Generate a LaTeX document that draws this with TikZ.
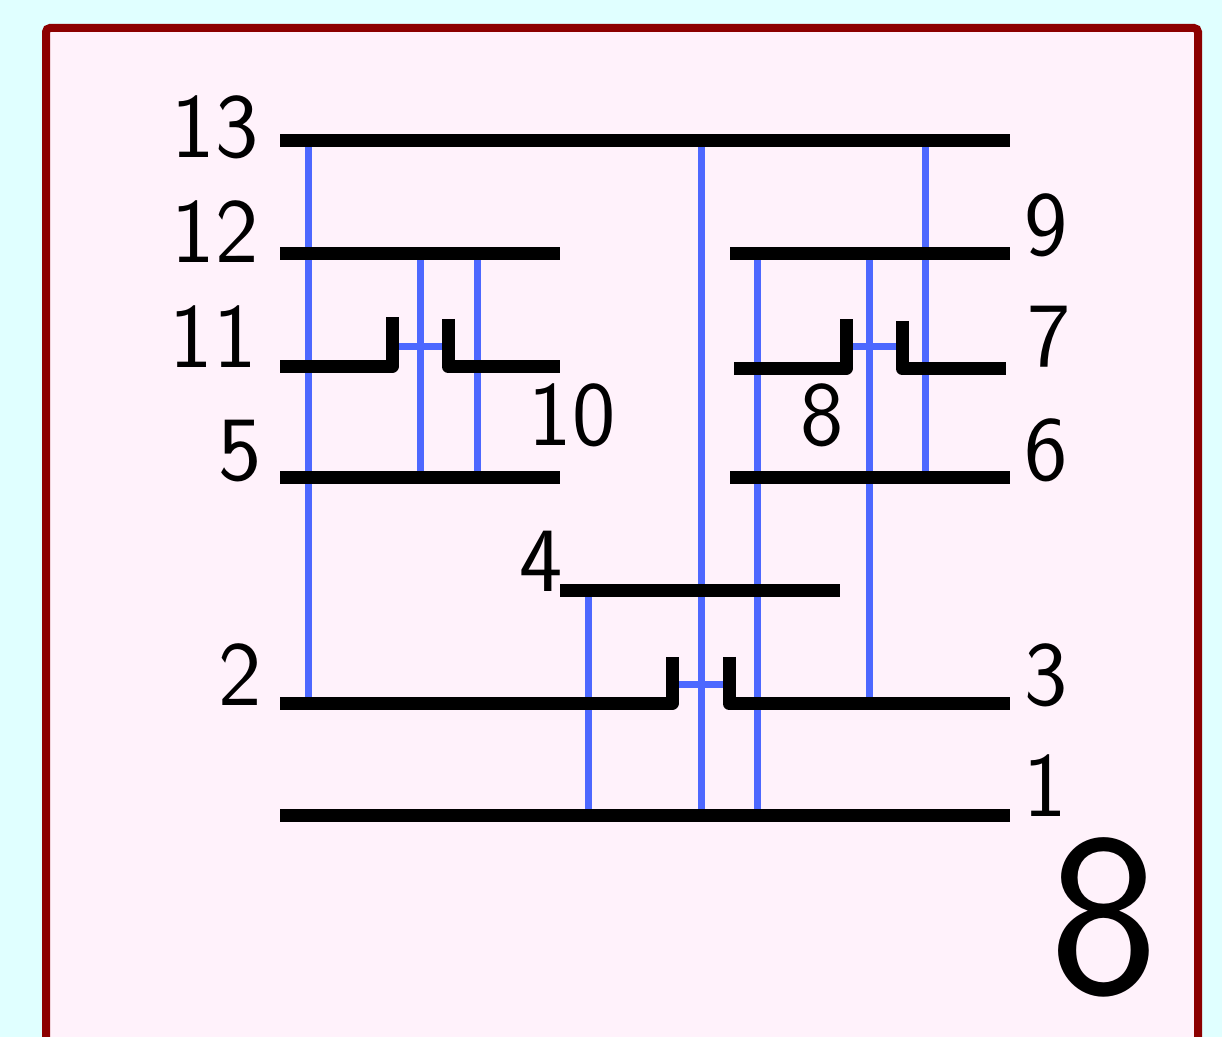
\documentclass[tikz,border=0pt]{standalone}
\usepackage{tikz}
\definecolor{bgcyan}{RGB}{224,255,255}
\definecolor{panelpink}{RGB}{255,242,251}
\definecolor{framered}{RGB}{140,0,0}
\definecolor{wireblue}{RGB}{77,104,255}
\tikzset{
  rung/.style={line width=6.5pt, black, line join=round},
  wire/.style={line width=3.5pt, wireblue},
  lab/.style={inner sep=0pt, font=\sffamily\fontsize{46pt}{48pt}\selectfont},
  biglab/.style={inner sep=0pt, font=\sffamily\fontsize{116pt}{118pt}\selectfont}
}
\begin{document}
\begin{tikzpicture}[x=0.5pt,y=-0.5pt]
\useasboundingbox (0,0) rectangle (1222,1037);
\clip (0,0) rectangle (1222,1037);
\fill[bgcyan] (0,0) rectangle (1222,1037);
\draw[framered, line width=4pt, fill=panelpink, rounded corners=2pt] (46,28) rectangle (1198,1120);

% endpoints
\coordinate (a13) at (280,141); \coordinate (b13) at (1010,141);
\coordinate (a12) at (280,254); \coordinate (b12) at (560,254);
\coordinate (c12) at (730,254); \coordinate (d12) at (1010,254);
\coordinate (a5) at (280,478); \coordinate (b5) at (560,478);
\coordinate (a6) at (730,478); \coordinate (b6) at (1010,478);
\coordinate (a4) at (560,591); \coordinate (b4) at (840,591);
\coordinate (a1) at (280,815); \coordinate (b1) at (1010,815);

% blue wires (under rungs)
\draw[wire] (308,141) coordinate (w1t) -- (308,703) coordinate (w1b);
\draw[wire] (420,254) coordinate (w2t) -- (420,478) coordinate (w2b);
\draw[wire] (477,254) coordinate (w3t) -- (477,478) coordinate (w3b);
\draw[wire] (588,591) coordinate (w4t) -- (588,815) coordinate (w4b);
\draw[wire] (701,141) coordinate (w5t) -- (701,815) coordinate (w5b);
\draw[wire] (757,254) coordinate (w6t) -- (757,815) coordinate (w6b);
\draw[wire] (869,254) coordinate (w7t) -- (869,703) coordinate (w7b);
\draw[wire] (925,141) coordinate (w8t) -- (925,478) coordinate (w8b);
\draw[wire] (395,347) coordinate (h1a) -- (445,347) coordinate (h1b);
\draw[wire] (849,347) coordinate (h2a) -- (899,347) coordinate (h2b);
\draw[wire] (675,685) coordinate (h3a) -- (726,685) coordinate (h3b);

% black rungs
\draw[rung] (a13) -- (b13);
\draw[rung] (a12) -- (b12);
\draw[rung] (c12) -- (d12);
\draw[rung] (a5) -- (b5);
\draw[rung] (a6) -- (b6);
\draw[rung] (a4) -- (b4);
\draw[rung] (a1) -- (b1);
% stepped rungs
\draw[rung] (280,366.5) coordinate (a11) -- (392,366.5) -- (392,317) coordinate (s11a);
\draw[rung] (448,319) coordinate (s10a) -- (448,366.5) -- (560,366.5) coordinate (b10);
\draw[rung] (734,368.5) coordinate (a8) -- (846,368.5) -- (846,319) coordinate (s8a);
\draw[rung] (902,321) coordinate (s7a) -- (902,368.5) -- (1006,368.5) coordinate (b7);
\draw[rung] (280,703.5) coordinate (a2) -- (672,703.5) -- (672,657) coordinate (s2a);
\draw[rung] (729,657) coordinate (s3a) -- (729,703.5) -- (1010,703.5) coordinate (b3);

% labels
\node[lab] (l13) at (215,127) {13};
\node[lab] (l12) at (215,232) {12};
\node[lab] (l11) at (213,337) {11};
\node[lab] (l5) at (240,451) {5};
\node[lab] (l2) at (240,675) {2};
\node[lab] (l10) at (572,415) {10};
\node[lab] (l4) at (541,561) {4};
\node[lab] (l8) at (822,415) {8};
\node[lab] (l9) at (1046,225) {9};
\node[lab] (l7) at (1049,337) {7};
\node[lab] (l6) at (1046,450) {6};
\node[lab] (l3) at (1046,675) {3};
\node[lab] (l1) at (1045,786) {1};
\node[biglab] (big) at (1104,917) {8};
\end{tikzpicture}
\end{document}
